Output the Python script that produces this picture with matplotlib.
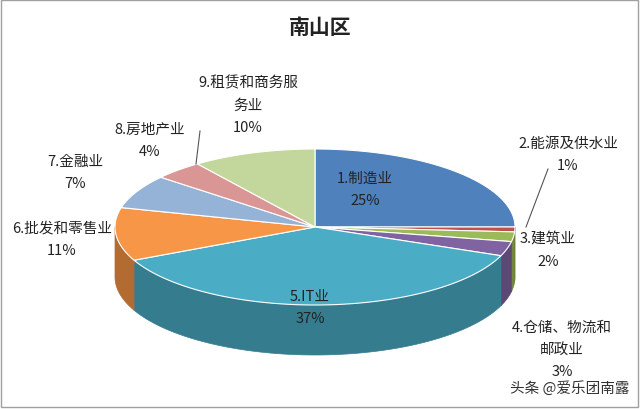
import numpy as np
import matplotlib.pyplot as plt
from matplotlib import font_manager
from matplotlib.patches import Polygon, Rectangle
import matplotlib.colors as mcolors

cjk = [f for f in font_manager.findSystemFonts() if "CJK" in f or "cjk" in f.lower()]
for f in cjk:
    try:
        font_manager.fontManager.addfont(f)
    except Exception:
        pass
names = sorted({font_manager.FontProperties(fname=f).get_name() for f in cjk})
fam = [n for n in names if "SC" in n] or names or ["DejaVu Sans"]
plt.rcParams["font.family"] = fam[0]

categories = ["1.制造业", "2.能源及供水业", "3.建筑业", "4.仓储、物流和\n邮政业", "5.IT业",
              "6.批发和零售业", "7.金融业", "8.房地产业", "9.租赁和商务服\n务业"]
values = [25, 1, 2, 3, 37, 11, 7, 4, 10]
colors = ["#4F81BD", "#C0504D", "#9BBB59", "#8064A2", "#4BACC6",
          "#F79646", "#95B3D7", "#D99694", "#C3D69B"]
# label anchor (pixels), centre of text block
label_pos = [(365, 190), (568, 155), (548, 251), (562, 350), (310, 308),
             (62, 240), (75, 173), (150, 141), (248, 106)]

fig = plt.figure(figsize=(6.4, 4.1), dpi=100)
ax = fig.add_axes([0, 0, 1, 1])
ax.set_xlim(0, 640)
ax.set_ylim(410, 0)
ax.axis("off")
ax.add_patch(Rectangle((1, 1), 637, 407, fill=False, ec="#A0A0A0", lw=1))

cx, cy, rx, ry, depth = 315, 228, 200, 78, 50

def pt(t):
    r = np.radians(t)
    return cx + rx * np.cos(r), cy - ry * np.sin(r)

start = 90.0
spans = []
for v in values:
    end = start - 360 * v / 100
    spans.append((end, start))
    start = end

# sides (front half: theta in (-180, 0))
for (a, b), c in zip(spans, colors):
    lo, hi = max(a, -180), min(b, 0)
    if lo >= hi:
        continue
    th = np.linspace(lo, hi, 100)
    xs, ys = pt(th)
    poly = list(zip(xs, ys)) + list(zip(xs[::-1], ys[::-1] + depth))
    dark = np.array(mcolors.to_rgb(c)) * 0.72
    ax.add_patch(Polygon(poly, closed=True, fc=dark, ec=dark, lw=0.5))

# tops
for (a, b), c in zip(spans, colors):
    th = np.linspace(a, b, 200)
    xs, ys = pt(th)
    poly = [(cx, cy)] + list(zip(xs, ys))
    ax.add_patch(Polygon(poly, closed=True, fc=c, ec="white", lw=0.8))

for cat, v, (lx, ly) in zip(categories, values, label_pos):
    ax.text(lx, ly, f"{cat}\n{v}%", ha="center", va="center", fontsize=10.5,
            linespacing=1.75, color="#222222")

# leader lines
ax.plot([548, 526], [170, 228], color="#555555", lw=0.8)
ax.plot([200, 196], [132, 165], color="#555555", lw=0.8)

ax.text(320, 28, "南山区", ha="center", va="center", fontsize=15,
        fontweight="bold", color="#222222")
ax.text(570, 388, "头条 @爱乐团南露", ha="center", va="center", fontsize=10.5, color="#333333")

fig.savefig("out.png")
